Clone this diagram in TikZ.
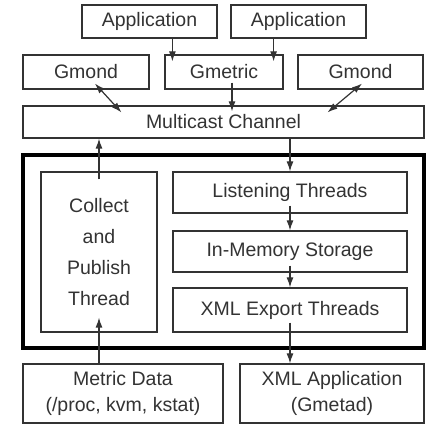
\documentclass[tikz,border=0pt]{standalone}
\usepackage{fontspec}
\setmainfont{Liberation Sans}
\usetikzlibrary{arrows.meta, calc, shadows}
\definecolor{ink}{gray}{0.2}
\tikzset{
	box/.style={
		rectangle,
		draw=ink, line width=1.2pt,
		fill=white,
		drop shadow={shadow xshift=1pt,shadow yshift=-1pt,fill=black!40,opacity=1},
		text=ink,
		inner sep=0pt,
		align=center,
		font=\fontsize{19.5}{26}\selectfont
	},
	frame/.style={rectangle, draw=black, line width=3.6pt, inner sep=0pt},
	arr/.style={-{Latex[length=10pt,width=7pt]}, draw=ink, line width=1.2pt},
	darr/.style={{Latex[length=10pt,width=7pt]}-{Latex[length=10pt,width=7pt]}, draw=ink, line width=1.2pt}
}

\begin{document}
\begin{tikzpicture}[x=1pt,y=1pt]
	\useasboundingbox (0,0) rectangle (437,430);
	% top row
	\node[box, minimum width=135pt, minimum height=33pt] (app1) at (149.5,408.5) {Application};
	\node[box, minimum width=135pt, minimum height=33pt] (app2) at (298.5,408.5) {Application};
	\node[box, minimum width=126pt, minimum height=34pt] (gmond1) at (86,358) {Gmond};
	\node[box, minimum width=118pt, minimum height=34pt] (gmetric) at (224,358) {Gmetric};
	\node[box, minimum width=125pt, minimum height=34pt] (gmond2) at (360.5,358) {Gmond};
	\node[box, minimum width=401pt, minimum height=32pt] (mc) at (223.5,308) {Multicast Channel};
	% daemon
	\node[frame, minimum width=401pt, minimum height=193pt] (daemon) at (223.5,178.5) {};
	\node[box, minimum width=116pt, minimum height=160pt,
		font=\fontsize{19.5}{31}\selectfont] (collect) at (99,178) {Collect\\and\\Publish\\Thread};
	\node[box, minimum width=234pt, minimum height=41pt] (listen) at (290,237.5) {Listening Threads};
	\node[box, minimum width=234pt, minimum height=41pt] (mem) at (290,178.5) {In-Memory Storage};
	\node[box, minimum width=234pt, minimum height=44pt] (xml) at (290,120) {XML Export Threads};
	% bottom row
	\node[box, minimum width=200pt, minimum height=59pt] (metric) at (123,36.5) {Metric Data\\(/proc, kvm, kstat)};
	\node[box, minimum width=184pt, minimum height=59pt] (xmlapp) at (332,36.5) {XML Application\\(Gmetad)};
	% connectors
	\draw[arr] ([xshift=8pt]gmetric.north west |- app1.south) -- ([xshift=8pt,yshift=-7pt]gmetric.north west);
	\draw[arr] ([xshift=-10pt]gmetric.north east |- app2.south) -- ([xshift=-10pt,yshift=-7pt]gmetric.north east);
	\draw[arr] ([xshift=8pt,yshift=7pt]gmetric.south) -- ([xshift=8pt,yshift=-6pt]gmetric.south |- mc.north);
	\draw[darr] ([xshift=9pt,yshift=6pt]gmond1.south) -- ([xshift=99pt,yshift=-7pt]mc.north west);
	\draw[darr] ([xshift=1.5pt,yshift=6pt]gmond2.south) -- ([xshift=-97pt,yshift=-7pt]mc.north east);
	\draw[arr] (listen.north |- mc.south) -- (listen.north);
	\draw[arr] ([yshift=8pt]listen.south) -- (mem.north);
	\draw[arr] ([yshift=7pt]mem.south) -- (xml.north);
	\draw[arr] ([yshift=10pt]xml.south) -- (xml.south |- xmlapp.north);
	\draw[arr] ([yshift=-8pt]collect.north) -- (collect.north |- mc.south);
	\draw[arr] (collect.south |- metric.north) -- ([yshift=15pt]collect.south);
\end{tikzpicture}
\end{document}
